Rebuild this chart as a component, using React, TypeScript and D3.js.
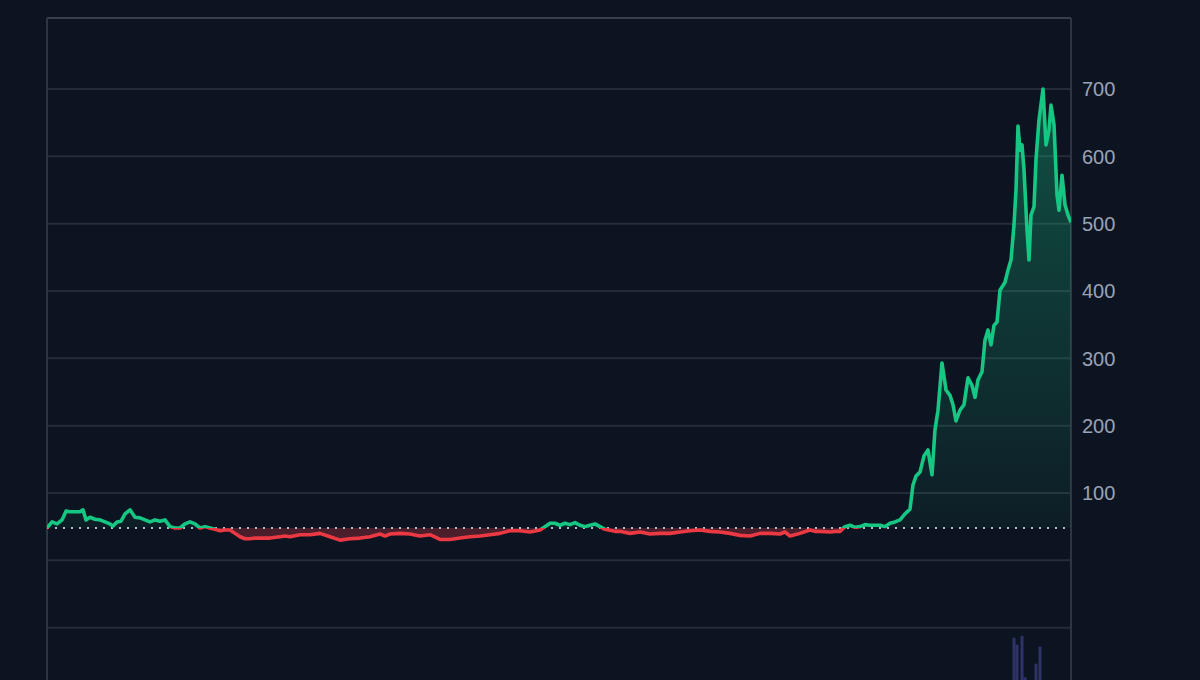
import React from "react";
import * as d3 from "d3";

// price history (day index from start, price)
const days = [0, 5, 10, 15, 19, 23, 28, 33, 36, 39, 43, 48, 53, 58, 63, 66, 70, 74, 78, 83, 88, 93, 98, 103, 108, 113, 118, 123, 128, 133, 138, 143, 148, 153, 158, 163, 168, 173, 178, 183, 188, 193, 198, 203, 208, 213, 223, 233, 238, 243, 253, 263, 273, 283, 293, 303, 313, 323, 333, 338, 343, 353, 363, 373, 383, 393, 403, 413, 423, 433, 443, 453, 463, 473, 483, 493, 498, 503, 508, 513, 518, 523, 528, 533, 538, 543, 548, 553, 558, 568, 573, 583, 593, 603, 613, 623, 633, 643, 653, 663, 673, 683, 693, 703, 713, 723, 733, 738, 743, 753, 763, 768, 773, 783, 788, 793, 798, 803, 808, 813, 818, 823, 828, 833, 838, 843, 848, 853, 858, 863, 866, 869, 873, 877, 881, 885, 888, 891, 895, 899, 903, 906, 909, 913, 917, 921, 925, 928, 931, 935, 938, 941, 944, 947, 950, 953, 958, 961, 964, 967, 969, 971, 973, 975, 977, 980, 982, 984, 987, 989, 992, 996, 999, 1002, 1004, 1007, 1010, 1012, 1015, 1018, 1021, 1024];
const prices = [48, 57, 54, 60, 73, 72, 72, 72, 75, 60, 64, 61, 60, 57, 54, 51, 57, 58, 69, 75, 64, 63, 60, 57, 60, 58, 60, 50, 48, 48, 54, 57, 54, 48, 50, 48, 46, 44, 45, 45, 40, 35, 32, 32, 33, 33, 33, 35, 36, 35, 38, 38, 40, 35, 30, 32, 33, 35, 39, 36, 39, 40, 39, 36, 38, 31, 31, 33, 35, 36, 38, 40, 44, 44, 42, 45, 50, 55, 55, 52, 55, 53, 56, 52, 50, 52, 54, 50, 46, 43, 43, 40, 42, 39, 40, 40, 42, 44, 45, 43, 42, 40, 37, 36, 40, 40, 39, 42, 36, 40, 45, 43, 43, 42, 43, 43, 50, 52, 49, 50, 53, 52, 52, 52, 50, 55, 57, 60, 69, 76, 112, 125, 131, 155, 164, 127, 194, 223, 293, 253, 245, 231, 207, 223, 231, 271, 260, 242, 268, 280, 327, 342, 320, 349, 354, 401, 413, 431, 446, 498, 550, 645, 609, 617, 580, 491, 446, 513, 525, 595, 654, 700, 617, 639, 676, 647, 543, 520, 572, 528, 513, 502];

const volumeDays = [967, 970, 975, 978, 989, 993];
const volumes = [62, 52, 65, 4, 24, 49];

const baseline = 48;
const gridValues = [-100, 0, 100, 200, 300, 400, 500, 600, 700];
const tickLabels = ["100", "200", "300", "400", "500", "600", "700"];

const W = 1200, H = 680;
const left = 47, right = 1071, top = 18;

export default function App() {
  const x = d3.scaleLinear().domain([0, 1024]).range([left, right]);
  const y = d3.scaleLinear().domain([0, 700]).range([560.3, 89]);
  const yv = d3.scaleLinear().domain([0, 100]).range([H, H - 68]);

  const pts = days.map((d, i) => [d, prices[i]] as [number, number]);
  const line = d3.line<[number, number]>().x(d => x(d[0])).y(d => y(d[1]));
  const area = d3.area<[number, number]>().x(d => x(d[0])).y0(y(baseline)).y1(d => y(d[1]));
  const by = y(baseline);

  return (
    <div style={{ position: "fixed", left: 0, top: 0 }}>
      <svg width={W} height={H} style={{ display: "block", background: "#0d1421" }}>
        <defs>
          <clipPath id="above"><rect x={left} y={0} width={right - left} height={by} /></clipPath>
          <clipPath id="below"><rect x={left} y={by} width={right - left} height={H - by} /></clipPath>
          <linearGradient id="gfill" x1="0" y1="0" x2="0" y2={H} gradientUnits="userSpaceOnUse">
            <stop offset={0} stopColor="#16c784" stopOpacity={0.4} />
            <stop offset={by / H} stopColor="#16c784" stopOpacity={0.05} />
          </linearGradient>
        </defs>
        <rect x={0} y={0} width={W} height={H} fill="#0d1421" />
        {gridValues.map(v => (
          <line key={v} x1={left} x2={right} y1={y(v)} y2={y(v)} stroke="#262b38" strokeWidth={2} />
        ))}
        <line x1={left} x2={right} y1={top} y2={top} stroke="#3a3f4c" strokeWidth={2} />
        <line x1={left} x2={left} y1={top} y2={H} stroke="#2f3441" strokeWidth={2} />
        <line x1={right} x2={right} y1={top} y2={H} stroke="#2f3441" strokeWidth={2} />
        {volumeDays.map((d, i) => (
          <rect key={d} x={x(d) - 1.5} y={yv(volumes[i])} width={3} height={H - yv(volumes[i])} fill="#2f3266" />
        ))}
        <path d={area(pts) ?? ""} fill="url(#gfill)" clipPath="url(#above)" />
        <path d={area(pts) ?? ""} fill="rgba(234,57,67,0.28)" clipPath="url(#below)" />
        <line x1={left} x2={right} y1={by} y2={by} stroke="#b4b9c6" strokeWidth={2} strokeDasharray="2 6" />
        <path d={line(pts) ?? ""} fill="none" stroke="#16c784" strokeWidth={3.6} strokeLinejoin="round" clipPath="url(#above)" />
        <path d={line(pts) ?? ""} fill="none" stroke="#ea3943" strokeWidth={3.6} strokeLinejoin="round" clipPath="url(#below)" />
        {tickLabels.map(t => (
          <text key={t} x={1082} y={y(+t)} dy="0.36em" fill="#9ca2b5" fontSize={20} fontFamily="Liberation Sans, Arial, sans-serif">{t}</text>
        ))}
      </svg>
    </div>
  );
}
